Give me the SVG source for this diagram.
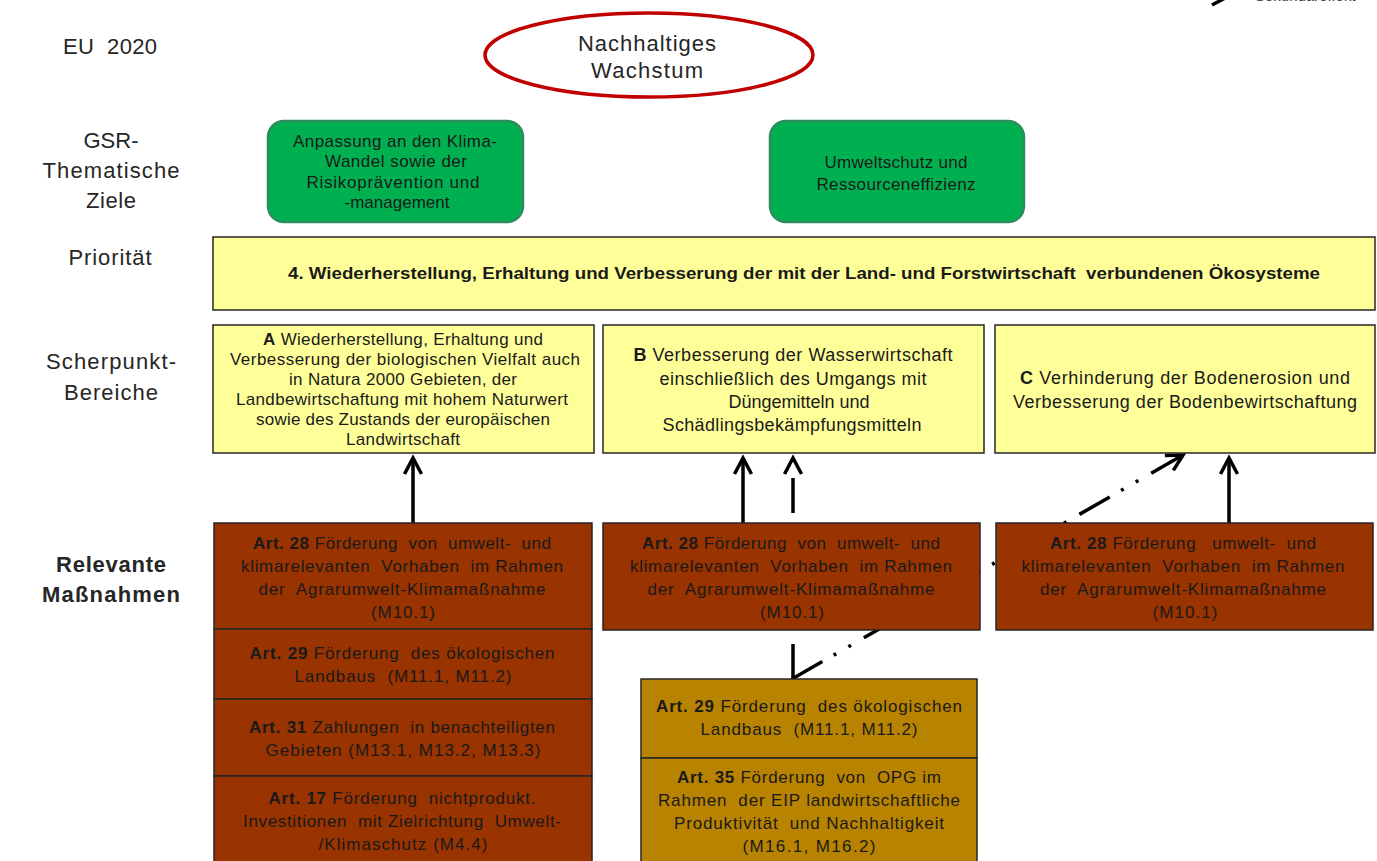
<svg xmlns="http://www.w3.org/2000/svg" width="1377" height="861" viewBox="0 0 1377 861">
<style>
text{font-family:"Liberation Sans",Arial,sans-serif;fill:#1a1a1a;text-anchor:middle;white-space:pre}
.lbl{font-size:22px;fill:#262626}
.g{font-size:17px}
.ya{font-size:17px}
.yb{font-size:18px}
.m{font-size:17px}
.b{font-weight:bold}
.box{stroke:#262626;stroke-width:1.5}
.yel{fill:#FFFF99}
.br{fill:#993300}
.gd{fill:#B88300}
.grn{fill:#00B050;stroke:#2D8C5C;stroke-width:2.5}
.con{fill:none;stroke:#000;stroke-width:3.5}
</style>
<defs>
<marker id="arr" markerUnits="userSpaceOnUse" viewBox="-20 -12 24 24" refX="0" refY="0" markerWidth="24" markerHeight="24" orient="auto" overflow="visible">
<path d="M-16,-8.5 L0,0 L-16,8.5" fill="none" stroke="#000" stroke-width="3.5"/>
</marker>
</defs>
<rect width="1377" height="861" fill="#fff"/>

<g id="legend-fragment">
<path d="M1212,5 L1227,-3" class="con"/>
<text x="1255" y="1" style="font-size:15px;text-anchor:start;fill:#444">Sekundäreffekt</text>
</g>

<g id="row-labels">
<text class="lbl" x="110" y="54" textLength="94" lengthAdjust="spacing">EU  2020</text>
<text class="lbl" x="111" y="148">GSR-</text>
<text class="lbl" x="111" y="178" textLength="137" lengthAdjust="spacing">Thematische</text>
<text class="lbl" x="111" y="208" textLength="50" lengthAdjust="spacing">Ziele</text>
<text class="lbl" x="110" y="265" textLength="83" lengthAdjust="spacing">Priorität</text>
<text class="lbl" x="111" y="369" textLength="130" lengthAdjust="spacing">Scherpunkt-</text>
<text class="lbl" x="111" y="400" textLength="94" lengthAdjust="spacing">Bereiche</text>
<text class="lbl b" x="111" y="572" textLength="110" lengthAdjust="spacing">Relevante</text>
<text class="lbl b" x="111" y="602" textLength="138" lengthAdjust="spacing">Maßnahmen</text>
</g>

<g id="connectors">
<path d="M413,523 L413,458" class="con" marker-end="url(#arr)"/>
<path d="M743,523 L743,458" class="con" marker-end="url(#arr)"/>
<path d="M793,679 L793,458" class="con" stroke-dasharray="35 20.3" marker-end="url(#arr)"/>
<path d="M1229,523 L1229,458" class="con" marker-end="url(#arr)"/>
<path d="M792,679 L1183,455" class="con" stroke-dasharray="35 13 3 14 3 14.8" marker-end="url(#arr)"/>
</g>

<g id="eu2020">
<ellipse cx="649" cy="55" rx="164" ry="42" fill="#fff" stroke="#C00000" stroke-width="3.5"/>
<text class="lbl" x="647" y="51" textLength="138" lengthAdjust="spacing">Nachhaltiges</text>
<text class="lbl" x="647" y="78" textLength="112" lengthAdjust="spacing">Wachstum</text>
</g>

<g id="gsr1">
<rect x="268" y="121" width="255" height="101" rx="16" class="grn"/>
<text class="g" x="395" y="147" textLength="204" lengthAdjust="spacing">Anpassung an den Klima-</text>
<text class="g" x="396" y="167" textLength="142" lengthAdjust="spacing">Wandel sowie der</text>
<text class="g" x="393" y="188" textLength="173" lengthAdjust="spacing">Risikoprävention und</text>
<text class="g" x="397" y="208" textLength="105" lengthAdjust="spacing">-management</text>
</g>

<g id="gsr2">
<rect x="770" y="121" width="254" height="101" rx="16" class="grn"/>
<text class="g" x="896" y="168" textLength="143" lengthAdjust="spacing">Umweltschutz und</text>
<text class="g" x="896" y="190" textLength="159" lengthAdjust="spacing">Ressourceneffizienz</text>
</g>

<g id="prioritaet">
<rect x="213" y="237" width="1162" height="73" class="box yel"/>
<text class="b" x="804" y="279" style="font-size:17px" textLength="1032" lengthAdjust="spacingAndGlyphs">4. Wiederherstellung, Erhaltung und Verbesserung der mit der Land- und Forstwirtschaft  verbundenen Ökosysteme</text>
</g>

<g id="bereich-a">
<rect x="213" y="325" width="381" height="128" class="box yel"/>
<text class="ya" x="403" y="345" textLength="280" lengthAdjust="spacing"><tspan class="b">A</tspan> Wiederherstellung, Erhaltung und</text>
<text class="ya" x="405" y="365" textLength="350" lengthAdjust="spacing">Verbesserung der biologischen Vielfalt auch</text>
<text class="ya" x="403" y="385" textLength="228" lengthAdjust="spacing">in Natura 2000 Gebieten, der</text>
<text class="ya" x="402" y="405" textLength="332" lengthAdjust="spacing">Landbewirtschaftung mit hohem Naturwert</text>
<text class="ya" x="403" y="425" textLength="294" lengthAdjust="spacing">sowie des Zustands der europäischen</text>
<text class="ya" x="403" y="445" textLength="114" lengthAdjust="spacing">Landwirtschaft</text>
</g>

<g id="bereich-b">
<rect x="603" y="325" width="381" height="128" class="box yel"/>
<text class="yb" x="793" y="361" textLength="319" lengthAdjust="spacing"><tspan class="b">B</tspan> Verbesserung der Wasserwirtschaft</text>
<text class="yb" x="793" y="385" textLength="267" lengthAdjust="spacing">einschließlich des Umgangs mit</text>
<text class="yb" x="799" y="408">Düngemitteln und</text>
<text class="yb" x="792" y="431" textLength="259" lengthAdjust="spacing">Schädlingsbekämpfungsmitteln</text>
</g>

<g id="bereich-c">
<rect x="995" y="325" width="380" height="128" class="box yel"/>
<text class="yb" x="1185" y="384" textLength="330" lengthAdjust="spacing"><tspan class="b">C</tspan> Verhinderung der Bodenerosion und</text>
<text class="yb" x="1185" y="408" textLength="344" lengthAdjust="spacing">Verbesserung der Bodenbewirtschaftung</text>
</g>

<g id="massnahmen-a">
<rect x="214" y="523" width="378" height="106" class="box br"/>
<text class="m" x="402" y="549" textLength="298" lengthAdjust="spacing"><tspan class="b">Art. 28</tspan> Förderung  von  umwelt-  und</text>
<text class="m" x="402" y="572" textLength="322" lengthAdjust="spacing">klimarelevanten  Vorhaben  im Rahmen</text>
<text class="m" x="402" y="595" textLength="287" lengthAdjust="spacing">der  Agrarumwelt-Klimamaßnahme</text>
<text class="m" x="403" y="618" textLength="64" lengthAdjust="spacing">(M10.1)</text>
<rect x="214" y="629" width="378" height="70" class="box br"/>
<text class="m" x="402" y="659" textLength="305" lengthAdjust="spacing"><tspan class="b">Art. 29</tspan> Förderung  des ökologischen</text>
<text class="m" x="403" y="682" textLength="217" lengthAdjust="spacing">Landbaus  (M11.1, M11.2)</text>
<rect x="214" y="699" width="378" height="77" class="box br"/>
<text class="m" x="402" y="733" textLength="306" lengthAdjust="spacing"><tspan class="b">Art. 31</tspan> Zahlungen  in benachteiligten</text>
<text class="m" x="403" y="756" textLength="275" lengthAdjust="spacing">Gebieten (M13.1, M13.2, M13.3)</text>
<rect x="214" y="776" width="378" height="100" class="box br"/>
<text class="m" x="402" y="804" textLength="267" lengthAdjust="spacing"><tspan class="b">Art. 17</tspan> Förderung  nichtprodukt.</text>
<text class="m" x="402" y="827" textLength="318" lengthAdjust="spacing">Investitionen  mit Zielrichtung  Umwelt-</text>
<text class="m" x="403" y="850" textLength="169" lengthAdjust="spacing">/Klimaschutz (M4.4)</text>
</g>

<g id="massnahmen-b">
<rect x="603" y="523" width="377" height="107" class="box br"/>
<text class="m" x="791" y="549" textLength="298" lengthAdjust="spacing"><tspan class="b">Art. 28</tspan> Förderung  von  umwelt-  und</text>
<text class="m" x="791" y="572" textLength="322" lengthAdjust="spacing">klimarelevanten  Vorhaben  im Rahmen</text>
<text class="m" x="791" y="595" textLength="287" lengthAdjust="spacing">der  Agrarumwelt-Klimamaßnahme</text>
<text class="m" x="792" y="618" textLength="64" lengthAdjust="spacing">(M10.1)</text>
</g>

<g id="massnahmen-c">
<rect x="996" y="523" width="377" height="107" class="box br"/>
<text class="m" x="1183" y="549" textLength="266" lengthAdjust="spacing"><tspan class="b">Art. 28</tspan> Förderung   umwelt-  und</text>
<text class="m" x="1183" y="572" textLength="323" lengthAdjust="spacing">klimarelevanten  Vorhaben  im Rahmen</text>
<text class="m" x="1183" y="595" textLength="286" lengthAdjust="spacing">der  Agrarumwelt-Klimamaßnahme</text>
<text class="m" x="1185" y="618" textLength="65" lengthAdjust="spacing">(M10.1)</text>
</g>

<g id="sekundaer">
<rect x="641" y="679" width="336" height="79" class="box gd"/>
<text class="m" x="809" y="712" textLength="306" lengthAdjust="spacing"><tspan class="b">Art. 29</tspan> Förderung  des ökologischen</text>
<text class="m" x="809" y="735" textLength="217" lengthAdjust="spacing">Landbaus  (M11.1, M11.2)</text>
<rect x="641" y="758" width="336" height="115" class="box gd"/>
<text class="m" x="809" y="783" textLength="264" lengthAdjust="spacing"><tspan class="b">Art. 35</tspan> Förderung  von  OPG im</text>
<text class="m" x="809" y="806" textLength="302" lengthAdjust="spacing">Rahmen  der EIP landwirtschaftliche</text>
<text class="m" x="809" y="829" textLength="270" lengthAdjust="spacing">Produktivität  und Nachhaltigkeit</text>
<text class="m" x="809" y="852" textLength="133" lengthAdjust="spacing">(M16.1, M16.2)</text>
</g>
</svg>
